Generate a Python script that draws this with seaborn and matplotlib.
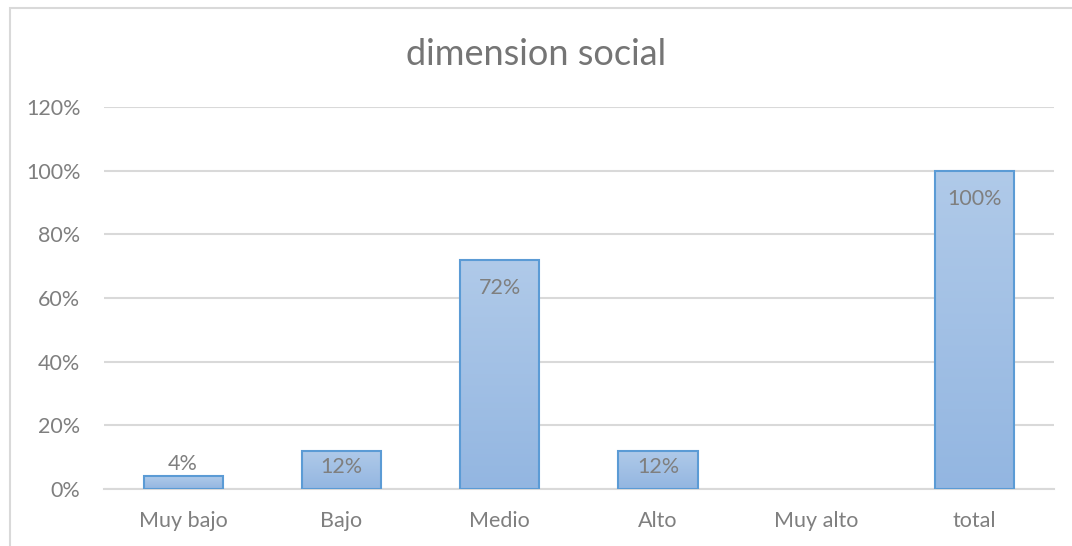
import numpy as np
import pandas as pd
import matplotlib
matplotlib.use("Agg")
import matplotlib.pyplot as plt
import seaborn as sns
from matplotlib.patches import Rectangle

categories = ["Muy bajo", "Bajo", "Medio", "Alto", "Muy alto", "total"]
values = [0.04, 0.12, 0.72, 0.12, 0.0, 1.00]
labels = ["4%", "12%", "72%", "12%", "", "100%"]
yticks = [0, 0.2, 0.4, 0.6, 0.8, 1.0, 1.2]

df = pd.DataFrame({"cat": categories, "val": values})

sns.set_style("white")
plt.rcParams["font.family"] = ["Lato", "DejaVu Sans"]

gray = "#7f7f7f"
fig = plt.figure(figsize=(10.72, 5.46), dpi=100)
ax = fig.add_axes([0.097, 0.1044, 0.886, 0.6996])

sns.barplot(data=df, x="cat", y="val", color="#a4c1e6", edgecolor="#5b9bd5",
            linewidth=1.5, width=0.5, saturation=1, ax=ax, zorder=3)

# vertical gradient inside bars (light top, darker bottom)
grad = np.linspace(0, 1, 256).reshape(-1, 1)
cmap = matplotlib.colors.LinearSegmentedColormap.from_list("g", ["#b0cae9", "#93b6e1"])
for p in ax.patches:
    h = p.get_height()
    if h <= 0:
        p.set_visible(False)
        continue
    x0 = p.get_x()
    w = p.get_width()
    im = ax.imshow(grad, cmap=cmap, aspect="auto", extent=[x0, x0 + w, 0, h],
                   origin="upper", zorder=3.5)
    im.set_clip_path(p)
    p.set_facecolor("none")
    p.set_zorder(4)

ax.set_xlim(-0.5, len(categories) - 0.5)
ax.set_ylim(0, 1.2)
ax.set_yticks(yticks)
ax.set_yticklabels([f"{int(round(t * 100))}%" for t in yticks])
ax.yaxis.grid(True, color="#d9d9d9", linewidth=1.5, zorder=0)
ax.set_axisbelow(True)
for s in ["top", "right", "left"]:
    ax.spines[s].set_visible(False)
ax.spines["bottom"].set_color("#d9d9d9")
ax.spines["bottom"].set_linewidth(1.5)
ax.tick_params(axis="both", length=0, colors=gray, labelsize=15.5)
ax.tick_params(axis="y", pad=17)
ax.tick_params(axis="x", pad=16)
ax.set_xlabel("")
ax.set_ylabel("")

for i, (v, lab) in enumerate(zip(values, labels)):
    if not lab:
        continue
    if v < 0.08:
        ax.text(i, v + 0.006, lab, ha="center", va="bottom", color=gray, fontsize=15.5, zorder=5)
    elif v < 0.3:
        ax.text(i, v - 0.018, lab, ha="center", va="top", color=gray, fontsize=15.5, zorder=5)
    else:
        ax.text(i, v - 0.09, lab, ha="center", va="center", color=gray, fontsize=15.5, zorder=5)

fig.text(0.5, 0.9, "dimension social", ha="center", va="center", color="#757575", fontsize=26)

# outer chart border
fig.patches.append(Rectangle((10 / 1072, -0.1), 1.2, 1 - 8 / 546 + 0.1, transform=fig.transFigure,
                             fill=False, edgecolor="#d9d9d9", linewidth=1.5))

fig.savefig("out.png", dpi=100)
